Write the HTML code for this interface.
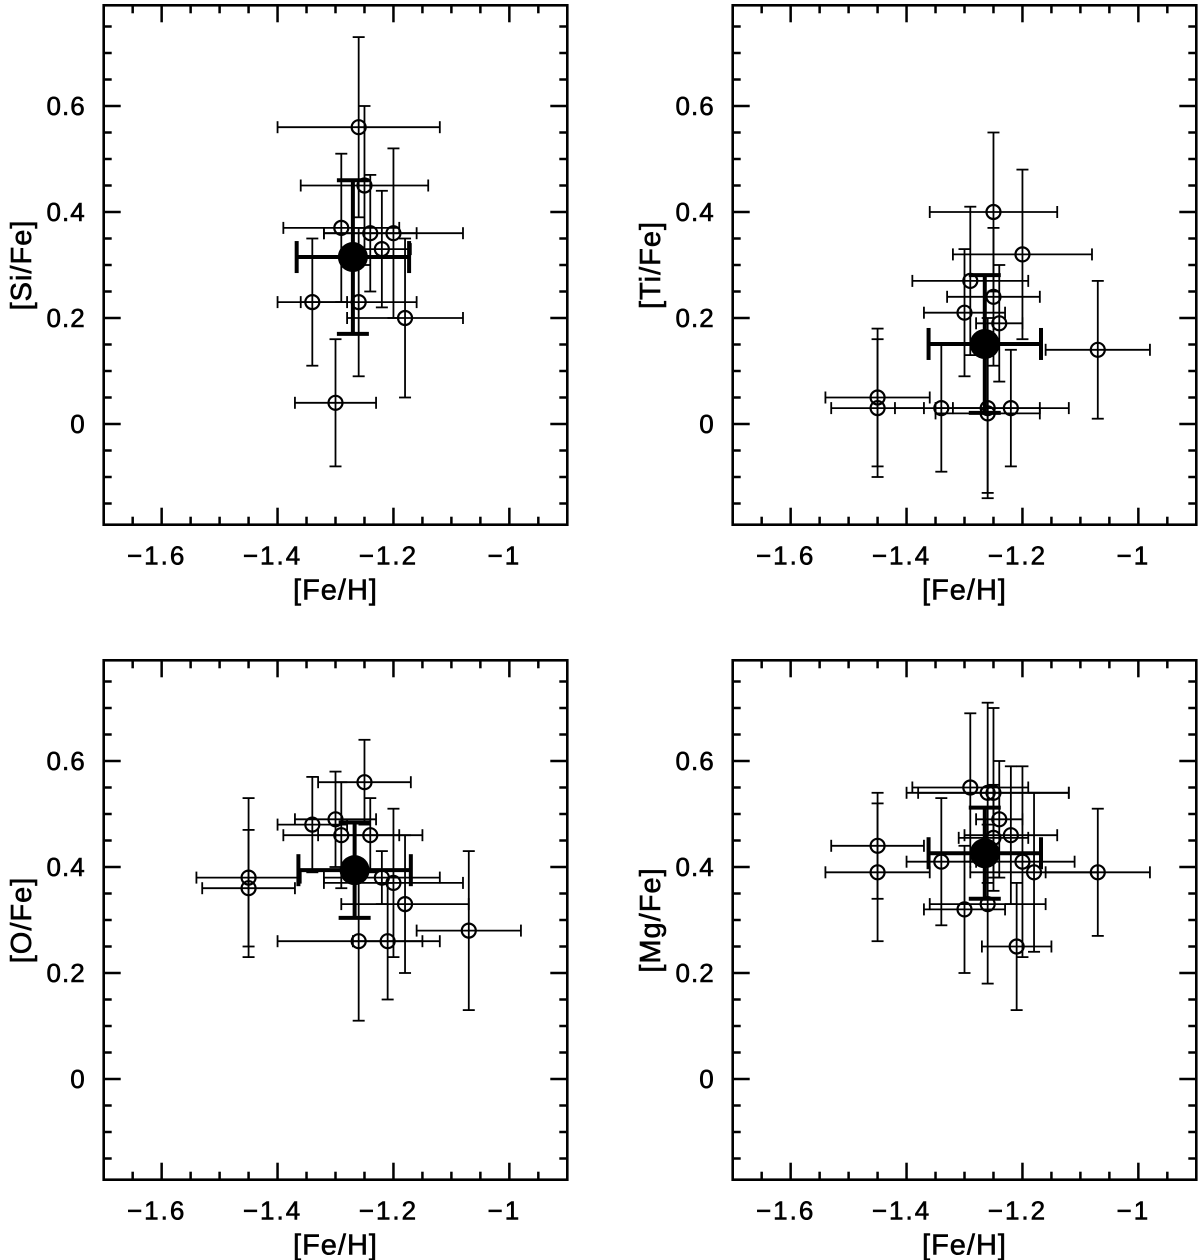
<!DOCTYPE html>
<html><head><meta charset="utf-8"><style>
html,body{margin:0;padding:0;background:#fff;}
svg{display:block;}
text{font-family:"Liberation Sans",sans-serif;fill:#000;stroke:#000;stroke-width:0.6;}
</style></head><body>
<svg id="chart" width="1200" height="1260" viewBox="0 0 1200 1260" xmlns="http://www.w3.org/2000/svg"></svg>
<script>
// ---- data: each star = [Fe/H], [X/Fe], xerr, yerr ----
const siFeH = [-1.26,-1.25,-1.29,-1.24,-1.20,-1.22,-1.34,-1.26,-1.18,-1.30];
const siVal = [0.56,0.45,0.37,0.36,0.36,0.33,0.23,0.23,0.20,0.04];
const siXerr = [0.14,0.11,0.10,0.08,0.12,0.05,0.06,0.10,0.10,0.07];
const siYerr = [0.17,0.15,0.14,0.11,0.16,0.11,0.12,0.14,0.15,0.12];
const siMean = [-1.27,0.315,0.097,0.145];

const tiFeH = [-1.25,-1.20,-1.29,-1.25,-1.30,-1.24,-1.07,-1.45,-1.45,-1.34,-1.26,-1.26,-1.22];
const tiVal = [0.40,0.32,0.27,0.24,0.21,0.19,0.14,0.05,0.03,0.03,0.03,0.02,0.03];
const tiXerr = [0.11,0.12,0.10,0.08,0.07,0.04,0.09,0.09,0.08,0.08,0.09,0.09,0.10];
const tiYerr = [0.15,0.16,0.14,0.13,0.12,0.11,0.13,0.13,0.13,0.12,0.17,0.15,0.11];
const tiMean = [-1.265,0.151,0.097,0.13];

const oFeH = [-1.25,-1.34,-1.30,-1.29,-1.24,-1.45,-1.45,-1.22,-1.20,-1.18,-1.07,-1.26,-1.21];
const oVal = [0.56,0.48,0.49,0.46,0.46,0.38,0.36,0.38,0.37,0.33,0.28,0.26,0.26];
const oXerr = [0.08,0.06,0.07,0.10,0.09,0.09,0.08,0.10,0.12,0.11,0.09,0.14,0.06];
const oYerr = [0.08,0.09,0.09,0.10,0.07,0.15,0.11,0.05,0.14,0.13,0.15,0.15,0.11];
const oMean = [-1.267,0.394,0.097,0.09];

const mgFeH = [-1.29,-1.26,-1.25,-1.24,-1.22,-1.25,-1.45,-1.45,-1.34,-1.20,-1.18,-1.07,-1.30,-1.26,-1.21];
const mgVal = [0.55,0.54,0.54,0.49,0.46,0.455,0.44,0.39,0.41,0.41,0.39,0.39,0.32,0.33,0.25];
const mgXerr = [0.10,0.14,0.13,0.04,0.08,0.06,0.08,0.09,0.06,0.09,0.11,0.09,0.07,0.10,0.06];
const mgYerr = [0.14,0.17,0.16,0.11,0.13,0.10,0.10,0.13,0.12,0.18,0.15,0.12,0.12,0.15,0.12];
const mgMean = [-1.265,0.426,0.097,0.086];

const xTicks = [-1.6,-1.4,-1.2,-1.0];
const xTickLabels = ["\u22121.6","\u22121.4","\u22121.2","\u22121"];
const yTicks = [0,0.2,0.4,0.6];
const yTickLabels = ["0","0.2","0.4","0.6"];

const NS="http://www.w3.org/2000/svg";
const svg=document.getElementById('chart');
function mk(tag,attrs,parent){const e=document.createElementNS(NS,tag);for(const k in attrs)e.setAttribute(k,attrs[k]);(parent||svg).appendChild(e);return e;}

const XMIN=-1.7, XMAX=-0.9, YMIN=-0.19, YMAX=0.79;
const X0=103.7, XS=579.5, Y0=424, YS=530;

function drawPanel(ox,oy,label,fe,val,xe,ye,mean,name){
  const g=mk('g',{});
  
  
  const sx=v=>ox+X0+(v-XMIN)*XS;
  const sy=v=>oy+Y0-v*YS;
  const L=sx(XMIN),R=sx(XMAX),T=sy(YMAX),B=sy(YMIN);
  const tg=mk('g',{stroke:'#000','stroke-width':2.5},g);
  
  
  for(let i=-34;i<=-18;i++){const v=i*0.05;const x=sx(v);if(x<=L+1||x>=R-1)continue;
    const major=(i%4===0);const len=major?17:8;
    mk('line',{x1:x,y1:B,x2:x,y2:B-len},tg);mk('line',{x1:x,y1:T,x2:x,y2:T+len},tg);}
  for(let i=-3;i<=15;i++){const v=i*0.05;const y=sy(v);if(y>=B-1||y<=T+1)continue;
    const major=(i%4===0);const len=major?17:8;
    mk('line',{x1:L,y1:y,x2:L+len,y2:y},tg);mk('line',{x1:R,y1:y,x2:R-len,y2:y},tg);}
  const fr=mk('rect',{x:L,y:T,width:R-L,height:B-T,fill:'none',stroke:'#000','stroke-width':2.6},g);
  
  
  xTicks.forEach((v,i)=>{const t=mk('text',{x:sx(v)-5,y:B+40,'font-size':26,'letter-spacing':2,'text-anchor':'middle'},g);t.textContent=xTickLabels[i];
    
    });
  yTicks.forEach((v,i)=>{const t=mk('text',{x:L-18,y:sy(v)+9,'font-size':26,'letter-spacing':1,'text-anchor':'end'},g);t.textContent=yTickLabels[i];
    
    });
  const xt=mk('text',{x:(L+R)/2,y:B+75,'font-size':29,'letter-spacing':1,'text-anchor':'middle'},g);xt.textContent='[Fe/H]';
  
  
  const cy=(T+B)/2;
  const yt=mk('text',{x:0,y:0,'font-size':29,'letter-spacing':1,'text-anchor':'middle',transform:`translate(${ox+31},${cy}) rotate(-90)`},g);yt.textContent=label;
  
  
  const sg=mk('g',{stroke:'#000','stroke-width':1.8,fill:'none'},g);
  
  
  const c=6;
  for(let i=0;i<fe.length;i++){
    const x=sx(fe[i]),y=sy(val[i]);
    const x1=sx(fe[i]-xe[i]),x2=sx(fe[i]+xe[i]),y1=sy(val[i]+ye[i]),y2=sy(val[i]-ye[i]);
    const s=mk('g',{},sg);
    
    
    mk('line',{x1:x1,y1:y,x2:x2,y2:y},s);
    mk('line',{x1:x,y1:y1,x2:x,y2:y2},s);
    mk('line',{x1:x1,y1:y-c,x2:x1,y2:y+c},s);
    mk('line',{x1:x2,y1:y-c,x2:x2,y2:y+c},s);
    mk('line',{x1:x-c,y1:y1,x2:x+c,y2:y1},s);
    mk('line',{x1:x-c,y1:y2,x2:x+c,y2:y2},s);
    mk('circle',{cx:x,cy:y,r:7,'stroke-width':2.2},s);
  }
  const mg=mk('g',{stroke:'#000','stroke-width':4,fill:'#000'},g);
  
  
  const mx=sx(mean[0]),my=sy(mean[1]);
  const mx1=sx(mean[0]-mean[2]),mx2=sx(mean[0]+mean[2]),my1=sy(mean[1]+mean[3]),my2=sy(mean[1]-mean[3]);
  const mc=16;
  mk('line',{x1:mx1,y1:my,x2:mx2,y2:my},mg);
  mk('line',{x1:mx,y1:my1,x2:mx,y2:my2},mg);
  mk('line',{x1:mx1,y1:my-mc,x2:mx1,y2:my+mc},mg);
  mk('line',{x1:mx2,y1:my-mc,x2:mx2,y2:my+mc},mg);
  mk('line',{x1:mx-mc,y1:my1,x2:mx+mc,y2:my1},mg);
  mk('line',{x1:mx-mc,y1:my2,x2:mx+mc,y2:my2},mg);
  mk('circle',{cx:mx,cy:my,r:15,stroke:'none'},mg);
}
drawPanel(0,0,'[Si/Fe]',siFeH,siVal,siXerr,siYerr,siMean,'si-fe');
drawPanel(629,0,'[Ti/Fe]',tiFeH,tiVal,tiXerr,tiYerr,tiMean,'ti-fe');
drawPanel(0,655,'[O/Fe]',oFeH,oVal,oXerr,oYerr,oMean,'o-fe');
drawPanel(629,655,'[Mg/Fe]',mgFeH,mgVal,mgXerr,mgYerr,mgMean,'mg-fe');
</script>
</body></html>
